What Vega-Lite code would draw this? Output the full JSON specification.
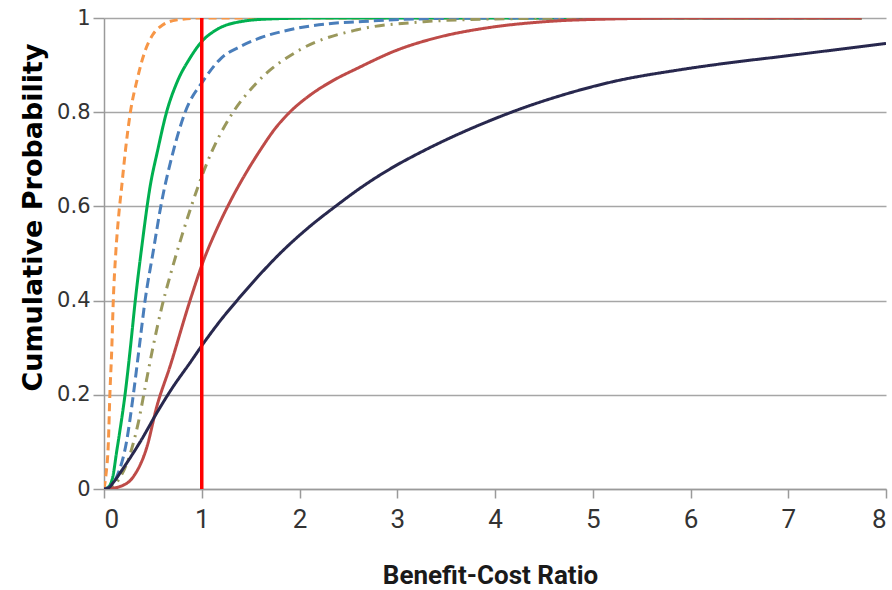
{
  "$schema": "https://vega.github.io/schema/vega-lite/v6.json",
  "width": 782,
  "height": 471,
  "autosize": "none",
  "padding": {"left": 104, "top": 18, "right": 6, "bottom": 101},
  "background": "white",
  "config": {"view": {"stroke": null}},
  "datasets": {
    "curves": [
      {"series": "orange", "bcr": 0, "cp": 0},
      {"series": "orange", "bcr": 0.02, "cp": 0.03},
      {"series": "orange", "bcr": 0.045, "cp": 0.1},
      {"series": "orange", "bcr": 0.06, "cp": 0.2},
      {"series": "orange", "bcr": 0.08, "cp": 0.3},
      {"series": "orange", "bcr": 0.095, "cp": 0.4},
      {"series": "orange", "bcr": 0.12, "cp": 0.5},
      {"series": "orange", "bcr": 0.15, "cp": 0.58},
      {"series": "orange", "bcr": 0.18, "cp": 0.64},
      {"series": "orange", "bcr": 0.22, "cp": 0.72},
      {"series": "orange", "bcr": 0.27, "cp": 0.8},
      {"series": "orange", "bcr": 0.34, "cp": 0.87},
      {"series": "orange", "bcr": 0.42, "cp": 0.93},
      {"series": "orange", "bcr": 0.5, "cp": 0.965},
      {"series": "orange", "bcr": 0.6, "cp": 0.985},
      {"series": "orange", "bcr": 0.75, "cp": 0.996},
      {"series": "orange", "bcr": 1, "cp": 1},
      {"series": "orange", "bcr": 7.75, "cp": 1},

      {"series": "green", "bcr": 0, "cp": 0},
      {"series": "green", "bcr": 0.05, "cp": 0.005},
      {"series": "green", "bcr": 0.09, "cp": 0.026},
      {"series": "green", "bcr": 0.13, "cp": 0.08},
      {"series": "green", "bcr": 0.16, "cp": 0.12},
      {"series": "green", "bcr": 0.215, "cp": 0.2},
      {"series": "green", "bcr": 0.27, "cp": 0.3},
      {"series": "green", "bcr": 0.32, "cp": 0.4},
      {"series": "green", "bcr": 0.39, "cp": 0.52},
      {"series": "green", "bcr": 0.47, "cp": 0.64},
      {"series": "green", "bcr": 0.55, "cp": 0.72},
      {"series": "green", "bcr": 0.64, "cp": 0.8},
      {"series": "green", "bcr": 0.75, "cp": 0.865},
      {"series": "green", "bcr": 0.88, "cp": 0.915},
      {"series": "green", "bcr": 1, "cp": 0.95},
      {"series": "green", "bcr": 1.15, "cp": 0.975},
      {"series": "green", "bcr": 1.39, "cp": 0.992},
      {"series": "green", "bcr": 1.7, "cp": 0.998},
      {"series": "green", "bcr": 2.2, "cp": 1},
      {"series": "green", "bcr": 7.75, "cp": 1},

      {"series": "blue", "bcr": 0, "cp": 0},
      {"series": "blue", "bcr": 0.06, "cp": 0.005},
      {"series": "blue", "bcr": 0.13, "cp": 0.026},
      {"series": "blue", "bcr": 0.23, "cp": 0.1},
      {"series": "blue", "bcr": 0.3, "cp": 0.2},
      {"series": "blue", "bcr": 0.36, "cp": 0.3},
      {"series": "blue", "bcr": 0.42, "cp": 0.4},
      {"series": "blue", "bcr": 0.5, "cp": 0.5},
      {"series": "blue", "bcr": 0.59, "cp": 0.61},
      {"series": "blue", "bcr": 0.7, "cp": 0.71},
      {"series": "blue", "bcr": 0.83, "cp": 0.8},
      {"series": "blue", "bcr": 1.02, "cp": 0.868},
      {"series": "blue", "bcr": 1.2, "cp": 0.915},
      {"series": "blue", "bcr": 1.39, "cp": 0.939},
      {"series": "blue", "bcr": 1.6, "cp": 0.958},
      {"series": "blue", "bcr": 1.9, "cp": 0.975},
      {"series": "blue", "bcr": 2.3, "cp": 0.988},
      {"series": "blue", "bcr": 2.6, "cp": 0.992},
      {"series": "blue", "bcr": 3.2, "cp": 0.998},
      {"series": "blue", "bcr": 4, "cp": 1},
      {"series": "blue", "bcr": 7.75, "cp": 1},

      {"series": "olive", "bcr": 0, "cp": 0},
      {"series": "olive", "bcr": 0.05, "cp": 0.002},
      {"series": "olive", "bcr": 0.15, "cp": 0.02},
      {"series": "olive", "bcr": 0.27, "cp": 0.076},
      {"series": "olive", "bcr": 0.35, "cp": 0.14},
      {"series": "olive", "bcr": 0.42, "cp": 0.215},
      {"series": "olive", "bcr": 0.5, "cp": 0.3},
      {"series": "olive", "bcr": 0.59, "cp": 0.385},
      {"series": "olive", "bcr": 0.7, "cp": 0.47},
      {"series": "olive", "bcr": 0.8, "cp": 0.54},
      {"series": "olive", "bcr": 0.88, "cp": 0.592},
      {"series": "olive", "bcr": 0.95, "cp": 0.635},
      {"series": "olive", "bcr": 1.1, "cp": 0.715},
      {"series": "olive", "bcr": 1.29, "cp": 0.79},
      {"series": "olive", "bcr": 1.56, "cp": 0.862},
      {"series": "olive", "bcr": 2.0, "cp": 0.932},
      {"series": "olive", "bcr": 2.59, "cp": 0.975},
      {"series": "olive", "bcr": 3.27, "cp": 0.992},
      {"series": "olive", "bcr": 4, "cp": 0.998},
      {"series": "olive", "bcr": 5, "cp": 1},
      {"series": "olive", "bcr": 7.75, "cp": 1},

      {"series": "red", "bcr": 0, "cp": 0},
      {"series": "red", "bcr": 0.1, "cp": 0.002},
      {"series": "red", "bcr": 0.16, "cp": 0.005},
      {"series": "red", "bcr": 0.3, "cp": 0.026},
      {"series": "red", "bcr": 0.44, "cp": 0.09},
      {"series": "red", "bcr": 0.54, "cp": 0.175},
      {"series": "red", "bcr": 0.675, "cp": 0.26},
      {"series": "red", "bcr": 0.88, "cp": 0.4},
      {"series": "red", "bcr": 1.02, "cp": 0.486},
      {"series": "red", "bcr": 1.15, "cp": 0.55},
      {"series": "red", "bcr": 1.29, "cp": 0.61},
      {"series": "red", "bcr": 1.45, "cp": 0.67},
      {"series": "red", "bcr": 1.6, "cp": 0.72},
      {"series": "red", "bcr": 1.75, "cp": 0.765},
      {"series": "red", "bcr": 1.9, "cp": 0.8},
      {"series": "red", "bcr": 2.1, "cp": 0.835},
      {"series": "red", "bcr": 2.35, "cp": 0.868},
      {"series": "red", "bcr": 2.59, "cp": 0.893},
      {"series": "red", "bcr": 3.0, "cp": 0.932},
      {"series": "red", "bcr": 3.4, "cp": 0.958},
      {"series": "red", "bcr": 3.95, "cp": 0.98},
      {"series": "red", "bcr": 4.5, "cp": 0.992},
      {"series": "red", "bcr": 5.2, "cp": 0.998},
      {"series": "red", "bcr": 6, "cp": 1},
      {"series": "red", "bcr": 7.75, "cp": 1},

      {"series": "navy", "bcr": 0, "cp": 0},
      {"series": "navy", "bcr": 0.05, "cp": 0.003},
      {"series": "navy", "bcr": 0.1, "cp": 0.015},
      {"series": "navy", "bcr": 0.2, "cp": 0.045},
      {"series": "navy", "bcr": 0.37, "cp": 0.1},
      {"series": "navy", "bcr": 0.55, "cp": 0.165},
      {"series": "navy", "bcr": 0.7, "cp": 0.215},
      {"series": "navy", "bcr": 0.88, "cp": 0.268},
      {"series": "navy", "bcr": 1.02, "cp": 0.31},
      {"series": "navy", "bcr": 1.2, "cp": 0.36},
      {"series": "navy", "bcr": 1.36, "cp": 0.4},
      {"series": "navy", "bcr": 1.58, "cp": 0.452},
      {"series": "navy", "bcr": 1.8, "cp": 0.5},
      {"series": "navy", "bcr": 2.08, "cp": 0.553},
      {"series": "navy", "bcr": 2.38, "cp": 0.602},
      {"series": "navy", "bcr": 2.65, "cp": 0.643},
      {"series": "navy", "bcr": 2.93, "cp": 0.68},
      {"series": "navy", "bcr": 3.25, "cp": 0.716},
      {"series": "navy", "bcr": 3.61, "cp": 0.752},
      {"series": "navy", "bcr": 3.9, "cp": 0.778},
      {"series": "navy", "bcr": 4.22, "cp": 0.804},
      {"series": "navy", "bcr": 4.7, "cp": 0.837},
      {"series": "navy", "bcr": 5.21, "cp": 0.865},
      {"series": "navy", "bcr": 5.89, "cp": 0.89},
      {"series": "navy", "bcr": 6.4, "cp": 0.905},
      {"series": "navy", "bcr": 6.92, "cp": 0.918},
      {"series": "navy", "bcr": 7.5, "cp": 0.933},
      {"series": "navy", "bcr": 8, "cp": 0.946}
    ],
    "threshold": [{"bcr": 1}]
  },
  "layer": [
    {
      "data": {"name": "curves"},
      "mark": {"type": "line", "strokeWidth": 3, "clip": true, "interpolate": "monotone"},
      "encoding": {
        "x": {
          "field": "bcr", "type": "quantitative",
          "scale": {"domain": [0, 8], "nice": false, "zero": true},
          "axis": {
            "values": [0, 1, 2, 3, 4, 5, 6, 7, 8],
            "format": "d",
            "grid": false,
            "domainColor": "#9a9a9a", "domainWidth": 1.5,
            "tickColor": "#9a9a9a", "tickWidth": 1.5, "tickSize": 9,
            "labelFont": "Roboto, sans-serif",
            "labelFontSize": 26, "labelColor": "#333333", "labelPadding": 8,
            "title": "Benefit-Cost Ratio",
            "titleFont": "Roboto, sans-serif",
            "titleFontSize": 26, "titleFontWeight": "bold", "titleColor": "#1a1a1a",
            "titleX": 386, "titleY": 94, "titleAlign": "center", "titleBaseline": "alphabetic"
          }
        },
        "y": {
          "field": "cp", "type": "quantitative",
          "scale": {"domain": [0, 1], "nice": false},
          "axis": {
            "values": [0, 0.2, 0.4, 0.6, 0.8, 1],
            "format": "~g",
            "grid": true, "gridColor": "#a6a6a6", "gridWidth": 1.5,
            "domainColor": "#9a9a9a", "domainWidth": 1.5,
            "tickColor": "#9a9a9a", "tickWidth": 1.5, "tickSize": 11,
            "labelFont": "DejaVu Sans, sans-serif",
            "labelFontSize": 21, "labelColor": "#333333", "labelPadding": 3,
            "title": "Cumulative Probability",
            "titleFont": "DejaVu Sans, sans-serif",
            "titleFontSize": 27, "titleFontWeight": "bold", "titleColor": "#000000",
            "titleAngle": -90, "titleX": -63, "titleY": 199,
            "titleAlign": "center", "titleBaseline": "alphabetic"
          }
        },
        "color": {
          "field": "series", "type": "nominal",
          "scale": {
            "domain": ["orange", "green", "blue", "olive", "red", "navy"],
            "range": ["#f79646", "#00b050", "#4a7ebb", "#9a985c", "#be4b48", "#28284e"]
          },
          "legend": null
        },
        "strokeDash": {
          "field": "series", "type": "nominal",
          "scale": {
            "domain": ["orange", "green", "blue", "olive", "red", "navy"],
            "range": [[8, 5], [1, 0], [10, 5], [10, 6, 2, 6], [1, 0], [1, 0]]
          },
          "legend": null
        }
      }
    },
    {
      "data": {"name": "threshold"},
      "mark": {"type": "rule", "color": "#ff0000", "strokeWidth": 3.5},
      "encoding": {
        "x": {"field": "bcr", "type": "quantitative"}
      }
    }
  ]
}
